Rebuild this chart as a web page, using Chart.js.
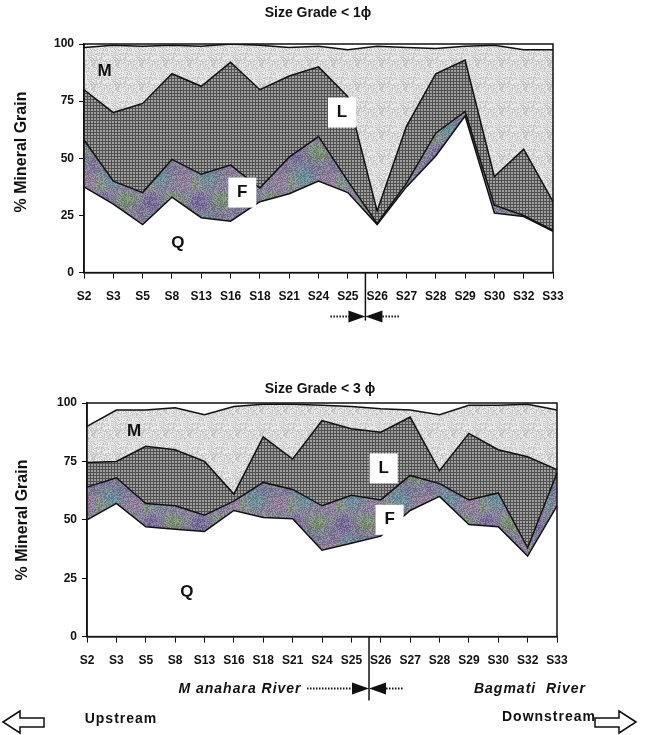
<!DOCTYPE html>
<html>
<head>
<meta charset="utf-8">
<script src="https://cdn.jsdelivr.net/npm/chart.js@4.4.0/dist/chart.umd.min.js"></script>
<style>
  body { margin:0; background:#fff; width:654px; height:735px; overflow:hidden; position:relative;
         font-family:"Liberation Sans", Arial, sans-serif; }
  canvas { position:absolute; left:0; }
  .t { position:absolute; font-weight:bold; white-space:nowrap; color:#111; transform:translate(-50%,-50%); }
  .yt { font-size:16px; transform:translate(-50%,-50%) rotate(-90deg); }
  .it { font-style:italic; font-size:14px; letter-spacing:1px; }
  .ud { font-size:14px; letter-spacing:1px; }
</style>
</head>
<body>
<canvas id="top" width="654" height="330" style="top:0px"></canvas>
<canvas id="bottom" width="654" height="350" style="top:370px"></canvas>

<div class="t" style="left:318px;top:12px;font-size:14px">Size Grade &lt; 1ϕ</div>
<div class="t" style="left:320px;top:388px;font-size:14px">Size Grade &lt; 3 ϕ</div>
<div class="t yt" style="left:21px;top:152px">% Mineral Grain</div>
<div class="t yt" style="left:22px;top:520px">% Mineral Grain</div>
<div class="t it" style="left:240px;top:688px">M anahara River</div>
<div class="t it" style="left:530px;top:688px">Bagmati&nbsp; River</div>
<div class="t ud" style="left:121px;top:718px">Upstream</div>
<div class="t ud" style="left:549px;top:716px">Downstream</div>
<svg width="654" height="735" style="position:absolute;left:0;top:0;pointer-events:none">
  <polygon points="3,722 20,711 20,718 44,718 44,727 20,727 20,733" fill="#fff" stroke="#111" stroke-width="1.5"/>
  <polygon points="636,722 619,711 619,718 595,718 595,727 619,727 619,733" fill="#fff" stroke="#111" stroke-width="1.5"/>
</svg>

<script>
// sampling sites, upstream to downstream
var sites = ['S2','S3','S5','S8','S13','S16','S18','S21','S24','S25','S26','S27','S28','S29','S30','S32','S33'];
var yTicks = [0, 25, 50, 75, 100];

// size grade < 1 phi : Q quartz, F feldspar, L lithic, M mica (%)
var q1 = [37.5, 30, 21, 33, 24, 22.5, 31, 34.5, 40, 35, 21, 37.5, 51, 68.5, 26, 24.5, 18];
var f1 = [20.5, 10, 14, 16.5, 19, 24.5, 6, 16, 19.5, 5, 0.5, 1.5, 10, 2, 3.5, 0.5, 0.5];
var l1 = [22, 30, 39, 37.5, 38.5, 45, 43, 35.5, 30.5, 37, 5.5, 25, 26, 22.5, 12.5, 29, 12.5];
var m1 = [18.5, 29.5, 25, 12.5, 17.5, 8, 19.5, 12.5, 9, 20.5, 72, 34.5, 11, 6, 57.5, 43.5, 66.5];

// size grade < 3 phi
var q3 = [50, 57, 47, 46, 45, 54, 51, 50.5, 37, 40, 43, 54, 60, 48, 47, 34.5, 56];
var f3 = [14, 11, 10, 10, 7, 4, 15, 12.5, 19, 20.5, 15.5, 15, 5.5, 10.5, 14.5, 3.5, 14];
var l3 = [10.5, 7, 24.5, 24, 23, 3, 19.5, 13, 36.5, 28.5, 29, 25, 5.5, 28.5, 18.5, 39, 1.5];
var m3 = [15.5, 22, 15.5, 18, 20, 37.5, 14, 23.5, 6.5, 9.5, 10, 3, 24, 12, 19, 22.5, 25.5];

var FONT = '"Liberation Sans", Arial, sans-serif';

function makePattern(w, h, draw) {
  var c = document.createElement('canvas');
  c.width = w; c.height = h;
  var g = c.getContext('2d');
  draw(g, w, h);
  return g.createPattern(c, 'repeat');
}

// fixed grain for the scanned-paper look
function grain(g, w, h, cell, light, dark) {
  for (var y = 0; y < h; y += cell) {
    for (var x = 0; x < w; x += cell) {
      var k = (((x + 7) * 73856093) ^ ((y + 3) * 19349663)) >>> 0;
      k = k % 7;
      if (k < 2) { g.fillStyle = light; g.fillRect(x, y, cell, cell); }
      else if (k > 4) { g.fillStyle = dark; g.fillRect(x, y, cell, cell); }
    }
  }
}

// lithic: dark cross hatch
var hatch = makePattern(3, 3, function(g) {
  g.fillStyle = '#a0a0a0'; g.fillRect(0, 0, 3, 3);
  g.fillStyle = '#505050'; g.fillRect(0, 0, 3, 1); g.fillRect(0, 0, 1, 3);
});
// mica: light speckled grey
var speckle = makePattern(24, 24, function(g, w, h) {
  g.fillStyle = '#d8d8d8'; g.fillRect(0, 0, w, h);
  grain(g, w, h, 1, '#ececec', '#c2c2c2');
});
// feldspar: mottled purple / green
var mottle = makePattern(48, 48, function(g, w, h) {
  g.fillStyle = '#85839a'; g.fillRect(0, 0, w, h);
  g.filter = 'blur(4px)';
  var blobs = [[8, 10, 10, '#736398'], [30, 9, 10, '#7b9272'], [16, 32, 10, '#66919c'],
               [40, 36, 9, '#967f9e'], [2, 40, 7, '#82957a'], [26, 24, 6, '#6e6a92'], [46, 20, 6, '#7a6a96']];
  blobs.forEach(function(b) {
    g.fillStyle = b[3];
    g.beginPath(); g.arc(b[0], b[1], b[2], 0, Math.PI * 2); g.fill();
  });
  g.filter = 'none';
  grain(g, w, h, 1, 'rgba(255,255,255,0.18)', 'rgba(0,0,0,0.15)');
});

var decor = {
  id: 'decor',
  afterDraw: function(chart, args, o) {
    var ctx = chart.ctx, a = chart.chartArea;
    var xs = chart.scales.x, ys = chart.scales.y;
    ctx.save();
    // frame
    ctx.strokeStyle = '#111'; ctx.lineWidth = 1.5;
    ctx.strokeRect(a.left, a.top, a.right - a.left, a.bottom - a.top);
    // phase labels
    o.labels.forEach(function(s) {
      var x = xs.getPixelForValue(s.i), y = ys.getPixelForValue(s.v);
      if (s.box) { ctx.fillStyle = '#fff'; ctx.fillRect(x - 14, y - 15, 28, 30); }
      ctx.fillStyle = '#111';
      ctx.font = 'bold 17px ' + FONT;
      ctx.textAlign = 'center'; ctx.textBaseline = 'middle';
      ctx.fillText(s.t, x, y);
    });
    // Manahara / Bagmati confluence marker
    var cx = xs.getPixelForValue(o.split);
    ctx.beginPath(); ctx.moveTo(cx, a.bottom); ctx.lineTo(cx, a.bottom + o.drop); ctx.stroke();
    var by = a.bottom + o.bowY;
    ctx.lineWidth = 2; ctx.setLineDash([1.5, 1.5]);
    ctx.beginPath();
    ctx.moveTo(cx - o.dl, by); ctx.lineTo(cx - 14, by);
    ctx.moveTo(cx + 14, by); ctx.lineTo(cx + o.dr, by);
    ctx.stroke();
    ctx.setLineDash([]);
    ctx.fillStyle = '#111';
    ctx.beginPath(); ctx.moveTo(cx, by); ctx.lineTo(cx - 17, by - 6); ctx.lineTo(cx - 17, by + 6); ctx.closePath(); ctx.fill();
    ctx.beginPath(); ctx.moveTo(cx, by); ctx.lineTo(cx + 17, by - 6); ctx.lineTo(cx + 17, by + 6); ctx.closePath(); ctx.fill();
    ctx.restore();
  }
};

function areaChart(id, q, f, l, m, pad, deco) {
  var line = function(data, fill, bg) {
    return { data: data, fill: fill, backgroundColor: bg, borderColor: '#111', borderWidth: 1.5,
             pointRadius: 0, tension: 0 };
  };
  return new Chart(document.getElementById(id), {
    type: 'line',
    data: {
      labels: sites,
      datasets: [line(q, false, '#fff'), line(f, '-1', mottle), line(l, '-1', hatch), line(m, '-1', speckle)]
    },
    options: {
      responsive: false, animation: false,
      layout: { padding: pad },
      plugins: { legend: { display: false }, tooltip: { enabled: false }, decor: deco },
      scales: {
        x: {
          offset: false,
          grid: { drawOnChartArea: false, color: '#111', tickLength: 6 },
          border: { color: '#111', width: 1.5 },
          ticks: { color: '#111', padding: 11, autoSkip: false, maxRotation: 0,
                   font: { family: FONT, size: 12, weight: 'bold' } }
        },
        y: {
          stacked: true, min: 0, max: 100,
          afterBuildTicks: function(ax) { ax.ticks = yTicks.map(function(v) { return { value: v }; }); },
          grid: { drawOnChartArea: false, color: '#111', tickLength: 5 },
          border: { color: '#111', width: 1.5 },
          ticks: { color: '#111', padding: 5, font: { family: FONT, size: 12, weight: 'bold' } }
        }
      }
    },
    plugins: [decor]
  });
}

areaChart('top', q1, f1, l1, m1, { left: 49, right: 101, top: 44, bottom: 15 }, {
  split: 9.6, drop: 48, bowY: 44, dl: 35, dr: 35,
  labels: [{ t: 'M', i: 0.7, v: 88 }, { t: 'L', i: 8.8, v: 70, box: true },
           { t: 'F', i: 5.4, v: 35, box: true }, { t: 'Q', i: 3.2, v: 13 }]
});

areaChart('bottom', q3, f3, l3, m3, { left: 52, right: 97, top: 33, bottom: 41 }, {
  split: 9.6, drop: 64, bowY: 52, dl: 62, dr: 34,
  labels: [{ t: 'M', i: 1.6, v: 88 }, { t: 'L', i: 10.1, v: 72, box: true },
           { t: 'F', i: 10.3, v: 50, box: true }, { t: 'Q', i: 3.4, v: 19 }]
});
</script>
</body>
</html>
